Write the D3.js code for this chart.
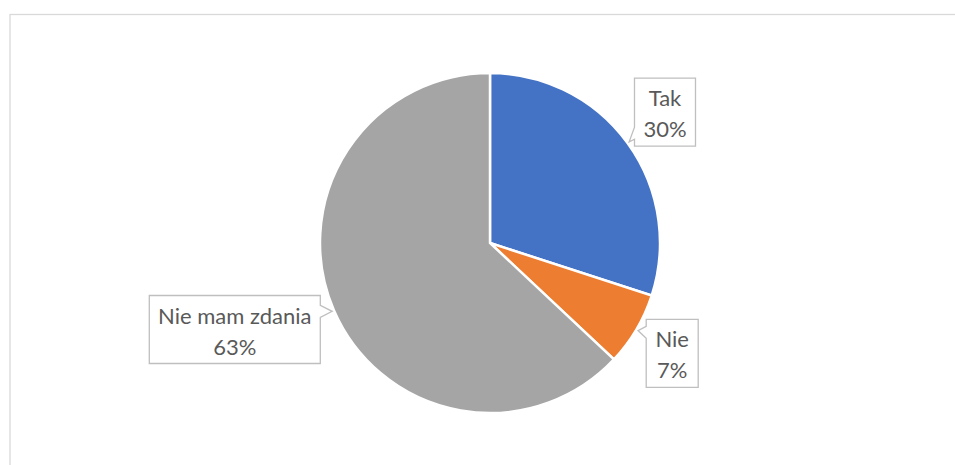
<!DOCTYPE html>
<html>
<head>
<meta charset="utf-8">
<script src="https://cdn.jsdelivr.net/npm/d3@7"></script>
<style>
  html, body { margin: 0; padding: 0; background: #fff; }
  svg { display: block; }
</style>
</head>
<body>
<svg id="chart" width="955" height="465"></svg>
<script>
// ---- data ----
const categories = ["Tak", "Nie", "Nie mam zdania"];
const values = [30, 7, 63];
const valueLabels = ["30%", "7%", "63%"];
const colors = ["#4472C4", "#ED7D31", "#A5A5A5"];

// ---- layout ----
const W = 955, H = 465;
const cx = 490, cy = 243, radius = 170;
const labelCenters = [[665, 112.2], [672.2, 353.3], [234.8, 329.5]];
const fontFamily = "Lato, 'Open Sans', sans-serif";
const fontSize = 22;

const svg = d3.select("#chart");

// outer frame
svg.append("rect")
  .attr("x", 10).attr("y", 14.5)
  .attr("width", W + 20).attr("height", H + 20)
  .attr("fill", "none").attr("stroke", "#D9D9D9").attr("stroke-width", 1.3);

const pie = d3.pie().sort(null).value(d => d)(values);
const arc = d3.arc().innerRadius(0).outerRadius(radius);

const g = svg.append("g").attr("transform", `translate(${cx},${cy})`);
g.selectAll("path.slice").data(pie).join("path")
  .attr("class", "slice")
  .attr("d", arc)
  .attr("fill", (d, i) => colors[i])
  .attr("stroke", "#fff")
  .attr("stroke-width", 2.5)
  .attr("stroke-linejoin", "miter");

// callout labels
const tipArc = d3.arc().innerRadius(radius + 2).outerRadius(radius + 2);

pie.forEach((d, i) => {
  const [tx0, ty0] = tipArc.centroid(d);
  const tip = [tx0 + cx, ty0 + cy];
  const [bx, by] = labelCenters[i];

  const lg = svg.append("g");
  const t1 = lg.append("text").text(categories[i])
    .attr("font-family", fontFamily).attr("font-size", fontSize)
    .attr("fill", "#595959").attr("text-anchor", "middle");
  const t2 = lg.append("text").text(valueLabels[i])
    .attr("font-family", fontFamily).attr("font-size", fontSize)
    .attr("fill", "#595959").attr("text-anchor", "middle");
  const tw = Math.max(t1.node().getComputedTextLength(), t2.node().getComputedTextLength());
  const w = Math.round(tw + 18), h = 68;
  const x0 = bx - w / 2, y0 = by - h / 2, x1 = bx + w / 2, y1 = by + h / 2;

  t1.attr("x", bx).attr("y", y0 + 28);
  t2.attr("x", bx).attr("y", y0 + 59);

  // callout path with notch on side facing tip
  const hw = 6;
  const p = d3.path();
  if (tip[0] < x0) {
    const c = Math.max(y0 + hw + 7, Math.min(y1 - hw - 7, tip[1]));
    p.moveTo(x0, y0); p.lineTo(x1, y0); p.lineTo(x1, y1); p.lineTo(x0, y1);
    p.lineTo(x0, c + hw); p.lineTo(tip[0], tip[1]); p.lineTo(x0, c - hw); p.closePath();
  } else {
    const c = Math.max(y0 + hw + 7, Math.min(y1 - hw - 7, tip[1]));
    p.moveTo(x0, y0); p.lineTo(x1, y0); p.lineTo(x1, c - hw);
    p.lineTo(tip[0], tip[1]); p.lineTo(x1, c + hw);
    p.lineTo(x1, y1); p.lineTo(x0, y1); p.closePath();
  }
  lg.insert("path", "text")
    .attr("d", p.toString())
    .attr("fill", "#fff")
    .attr("stroke", "#BFBFBF")
    .attr("stroke-width", 1.3);
});
</script>
</body>
</html>
